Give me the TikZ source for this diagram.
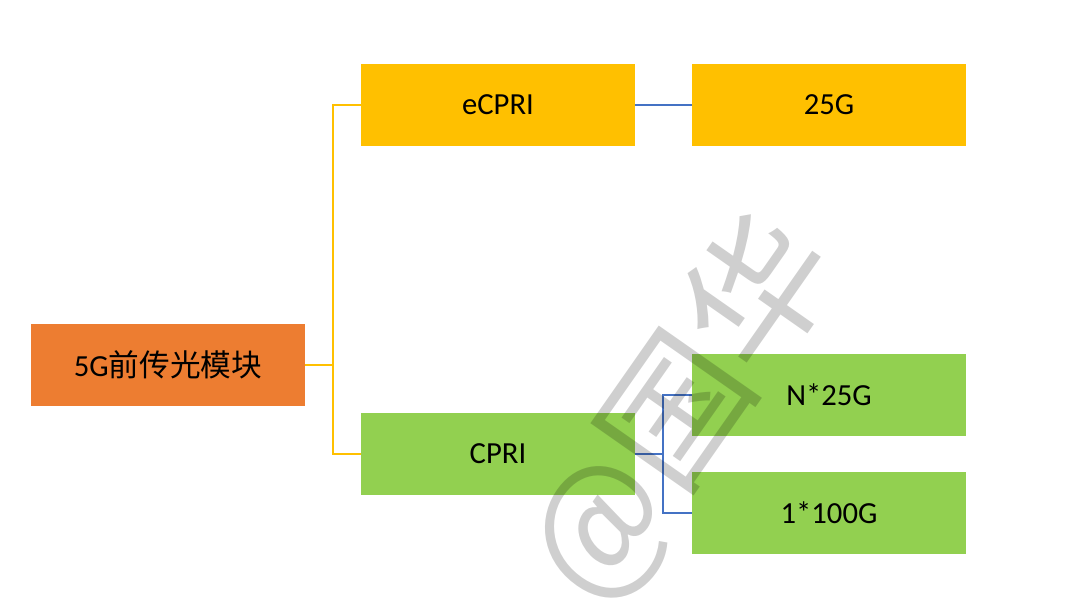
\documentclass[tikz,border=0pt]{standalone}
\usepackage{fontspec}
\setmainfont{Carlito}
\newfontfamily\cjk{Noto Sans CJK SC}
\definecolor{orng}{HTML}{ED7D31}
\definecolor{yel}{HTML}{FFC000}
\definecolor{grn}{HTML}{92D050}
\definecolor{blu}{HTML}{4472C4}
\tikzset{
  box/.style={minimum width=205.5pt, minimum height=61.5pt, inner sep=0pt, font=\fontsize{23pt}{26pt}\selectfont, text=black},
  ylink/.style={draw=yel, line width=0.9pt},
  blink/.style={draw=blu, line width=0.9pt},
  wmark/.style={rotate=55, text=black, text opacity=0.19, inner sep=0pt, font=\cjk\fontsize{108pt}{108pt}\selectfont},
}
\begin{document}
\begin{tikzpicture}[x=0.75pt, y=-0.75pt]
\useasboundingbox[fill=white] (0,0) rectangle (1080,608);
\node[box, fill=orng] (root) at (168,365) {5G{\cjk 前传光模块}};
\node[box, fill=yel] (ecpri) at (498,105) {eCPRI};
\node[box, fill=yel] (g25) at (829,105) {25G};
\node[box, fill=grn] (cpri) at (498,454) {CPRI};
\node[box, fill=grn] (n25) at (829,395) {N*25G};
\node[box, fill=grn] (g100) at (829,513) {1*100G};
\coordinate (j1) at (333,365);
\coordinate (j2) at (663,454);
\draw[ylink] (root.east) -- (j1) |- (ecpri.west);
\draw[ylink] (j1) |- (cpri.west);
\draw[blink] (ecpri.east) -- (g25.west);
\draw[blink] (cpri.east) -- (j2) |- (n25.west);
\draw[blink] (j2) |- (g100.west);
\node[wmark] (wm) at (682,410) {@国华};
\end{tikzpicture}
\end{document}
